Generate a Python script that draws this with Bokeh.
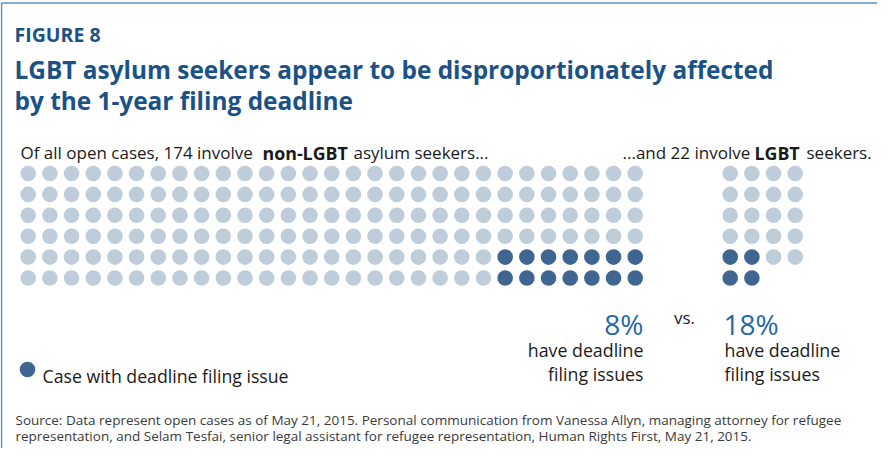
from bokeh.plotting import figure
from bokeh.models import Range1d
from bokeh.core.properties import value
from bokeh.embed import file_html
from bokeh.resources import INLINE

# ---------------- data ----------------
groups = ["non-LGBT", "LGBT"]
total_cases = [174, 22]
deadline_issue_cases = [14, 4]
percent_labels = ["8%", "18%"]
grid_columns = [29, 4]
issue_alignment = ["right", "left"]

title_kicker = "FIGURE 8"
title_lines = ["LGBT asylum seekers appear to be disproportionately affected",
               "by the 1-year filing deadline"]
source_lines = [
    "Source: Data represent open cases as of May 21, 2015. Personal communication from Vanessa Allyn, managing attorney for refugee",
    "representation, and Selam Tesfai, senior legal assistant for refugee representation, Human Rights First, May 21, 2015.",
]
legend_label = "Case with deadline filing issue"
outcome_lines = ["have deadline", "filing issues"]

# ---------------- style ----------------
FONT = "Open Sans"
LIGHT = "#bfcddb"
DARK = "#3e6690"
TITLE_BLUE = "#1b5286"
PCT_BLUE = "#1f69a6"
TEXT = "#1a1a1a"
BORDER = "#5d8fbd"

W, H = 877, 448
p = figure(width=W, height=H, output_backend="svg", toolbar_location=None,
           x_range=Range1d(8, 8 + W), y_range=Range1d(8 + H, 8),
           min_border=0, outline_line_color=None,
           x_axis_location=None, y_axis_location=None)
p.grid.visible = False
p.background_fill_color = "white"
p.border_fill_color = "white"

# frame
p.segment(x0=[9, 9], y0=[10.5, 10.5], x1=[9, 8 + W], y1=[8 + H, 10.5],
          line_color=BORDER, line_width=1.5)

# ---------------- dot grids ----------------
grid_x0 = [35.7, 737.7]
DX, DY = 21.68, 20.9
Y0 = 181.0
xs, ys, cols = [], [], []
for g in range(len(groups)):
    n, k, ncol = total_cases[g], deadline_issue_cases[g], grid_columns[g]
    nrow = -(-n // ncol)
    per_row = k // 2
    for i in range(n):
        r, c = divmod(i, ncol)
        dark = False
        if r >= nrow - 2:
            if issue_alignment[g] == "right":
                dark = c >= ncol - per_row
            else:
                dark = c < per_row
        xs.append(grid_x0[g] + c * DX)
        ys.append(Y0 + r * DY)
        cols.append(DARK if dark else LIGHT)
p.circle(x=xs, y=ys, radius=7.8, fill_color=cols, line_color=None)


def txt(x, y, s, size, color=TEXT, bold=False, align="left", baseline="alphabetic"):
    p.text(x=[x], y=[y], text=[s], text_font=value(FONT),
           text_font_size=f"{size}px", text_color=color,
           text_font_style="bold" if bold else "normal",
           text_align=align, text_baseline=baseline)


# titles
txt(22, 42, title_kicker, 19.5, TITLE_BLUE, bold=True)
txt(22, 77, title_lines[0], 24.4, TITLE_BLUE, bold=True)
txt(22, 108, title_lines[1], 24.4, TITLE_BLUE, bold=True)

# headers
HB = 160
HS = 17
BS = 17.8
txt(28, HB, f"Of all open cases, {total_cases[0]} involve", HS)
txt(270, HB, groups[0], BS, bold=True)
txt(361, HB, "asylum seekers...", HS)
txt(630, HB, f"...and {total_cases[1]} involve", HS)
txt(762, HB, groups[1], BS, bold=True)
txt(814, HB, "seekers.", HS)

# percentages
txt(651, 331, percent_labels[0], 28, PCT_BLUE, align="right")
txt(731, 331, percent_labels[1], 28, PCT_BLUE, align="left")
txt(692, 325, "vs.", 17, align="center")
for j, line in enumerate(outcome_lines):
    txt(651, 357 + j * 24.5, line, 17.8, align="right")
    txt(732, 357 + j * 24.5, line, 17.8, align="left")

# legend
p.circle(x=[35], y=[377], radius=7.8, fill_color=DARK, line_color=None)
txt(50, 383, legend_label, 17.7)

# source
for j, line in enumerate(source_lines):
    txt(23, 427 + j * 16, line, 13.5, "#3a3a3a")

open("out.html", "w").write(file_html(p, INLINE))
